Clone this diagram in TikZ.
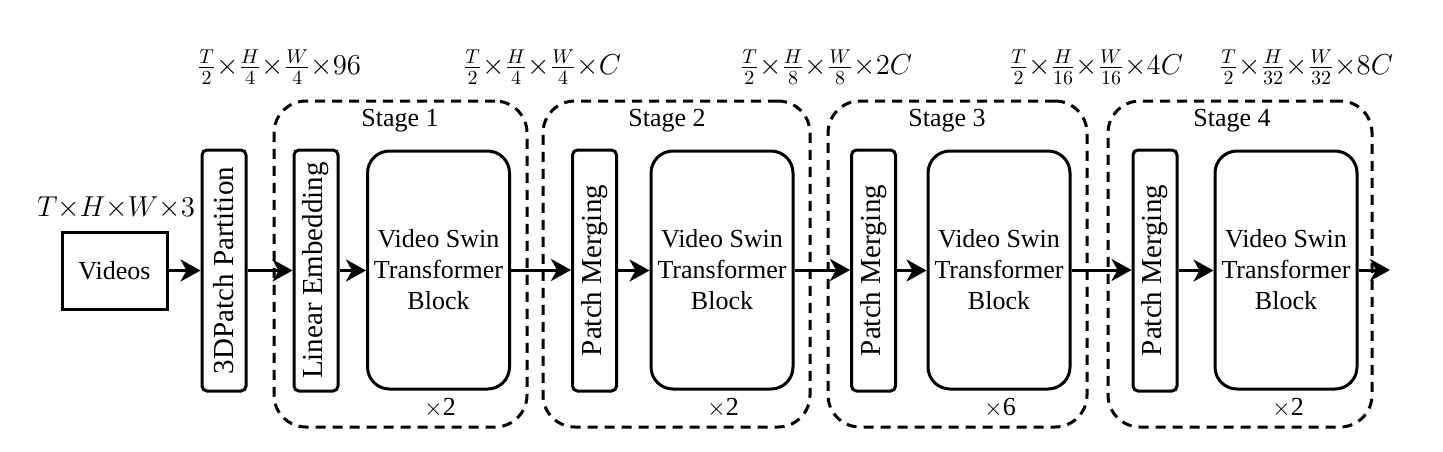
\documentclass[tikz,border=0pt]{standalone}
\usepackage{fontspec}
\setmainfont{Liberation Serif}
\usetikzlibrary{arrows.meta}
\begin{document}
\begin{tikzpicture}[x=0.5pt,y=-0.5pt,
  every node/.style={font=\fontsize{13}{15.5}\selectfont, inner sep=0pt},
  box/.style={draw, line width=1.5pt, align=center},
  thin box/.style={box, rounded corners=2.5pt, minimum width=22pt, minimum height=120.5pt, font=\fontsize{14.5}{17}\selectfont},
  block/.style={box, rounded corners=11pt, minimum width=71pt, minimum height=119pt},
  stagebox/.style={draw, line width=1.5pt, dash pattern=on 5pt off 3.5pt, rounded corners=16pt, minimum height=163pt},
  arr/.style={line width=1.5pt, -{Stealth[length=10pt, width=11pt, inset=3pt]}},
  dimlbl/.style={font=\fontsize{14.4}{17}\selectfont}
]
\useasboundingbox (0,0) rectangle (1443,451);

% stage boxes
\node[stagebox, minimum width=126.5pt] (s1) at (400.5,264) {};
\node[stagebox, minimum width=133.5pt] (s2) at (676.5,264) {};
\node[stagebox, minimum width=129.5pt] (s3) at (957.5,264) {};
\node[stagebox, minimum width=132pt] (s4) at (1240,264) {};

% stage titles
\node (t1) at (400,121) {Stage 1};
\node (t2) at (667,121) {Stage 2};
\node (t3) at (947,121) {Stage 3};
\node (t4) at (1232,121) {Stage 4};

% repeat counts
\node (r1) at (440,408) {$\times$2};
\node (r2) at (723,408) {$\times$2};
\node (r3) at (1000,408) {$\times$6};
\node (r4) at (1288,408) {$\times$2};

% blocks
\node[box, minimum width=52.5pt, minimum height=38.5pt] (vid) at (114.5,270.5) {Videos};
\node[thin box] (pp) at (224,270.5) {\rotatebox{90}{3DPatch Partition}};
\node[thin box] (le) at (316,270.5) {\rotatebox{90}{Linear Embedding}};
\node[block] (v1) at (438.5,270) {Video Swin\\Transformer\\Block};
\node[thin box] (pm2) at (594.5,270.5) {\rotatebox{90}{Patch Merging}};
\node[block] (v2) at (722,270) {Video Swin\\Transformer\\Block};
\node[thin box] (pm3) at (873.5,270.5) {\rotatebox{90}{Patch Merging}};
\node[block] (v3) at (999,270) {Video Swin\\Transformer\\Block};
\node[thin box] (pm4) at (1155,270.5) {\rotatebox{90}{Patch Merging}};
\node[block] (v4) at (1286,270) {Video Swin\\Transformer\\Block};
\coordinate (out) at (1390,270);

% dimension labels
\node[dimlbl] (d0) at (116,208) {$T{\times}H{\times}W{\times}3$};
\node[dimlbl] (d1) at (279,67) {$\frac{T}{2}{\times}\frac{H}{4}{\times}\frac{W}{4}{\times}96$};
\node[dimlbl] (d2) at (542,67) {$\frac{T}{2}{\times}\frac{H}{4}{\times}\frac{W}{4}{\times}C$};
\node[dimlbl] (d3) at (826,67) {$\frac{T}{2}{\times}\frac{H}{8}{\times}\frac{W}{8}{\times}2C$};
\node[dimlbl] (d4) at (1096,67) {$\frac{T}{2}{\times}\frac{H}{16}{\times}\frac{W}{16}{\times}4C$};
\node[dimlbl] (d5) at (1306,67) {$\frac{T}{2}{\times}\frac{H}{32}{\times}\frac{W}{32}{\times}8C$};

% arrows
\draw[arr] (vid) -- (pp);
\draw[arr] (pp) -- (le);
\draw[arr] (le) -- (le -| v1.west);
\draw[arr] (v1) -- (v1 -| pm2.west);
\draw[arr] (pm2) -- (pm2 -| v2.west);
\draw[arr] (v2) -- (v2 -| pm3.west);
\draw[arr] (pm3) -- (pm3 -| v3.west);
\draw[arr] (v3) -- (v3 -| pm4.west);
\draw[arr] (pm4) -- (pm4 -| v4.west);
\draw[arr] (v4) -- (out);
\end{tikzpicture}
\end{document}
